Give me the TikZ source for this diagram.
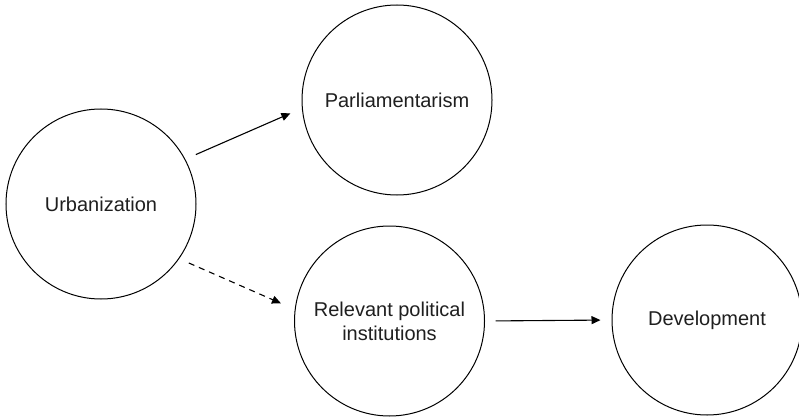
\documentclass[tikz,border=0pt]{standalone}
\usepackage{fontspec}
\setmainfont{Liberation Sans}
\usetikzlibrary{arrows.meta}
\begin{document}
\begin{tikzpicture}[x=1pt,y=-1pt,
  concept/.style={circle,draw=black,line width=1pt,minimum size=190pt,inner sep=0pt,
    align=center,text=black!88,font=\fontsize{20}{24}\selectfont},
  link/.style={line width=1.1pt,-{Triangle[length=9pt,width=8pt]}},
  dashlink/.style={link,dash pattern=on 6pt off 5pt}]
\useasboundingbox (0,0) rectangle (799,417);
\node[concept] (u) at (101,204) {Urbanization};
\node[concept] (p) at (397,100) {Parliamentarism};
\node[concept] (r) at (389.5,321) {Relevant political\\institutions};
\node[concept] (d) at (707,320) {Development};
\draw[link,shorten <=11.5pt,shorten >=12.5pt] (u.28) -- (p.185.3);
\draw[dashlink,shorten <=10.5pt,shorten >=15pt] (u.-35.3) -- (r.173.7);
\draw[link,shorten <=10.5pt,shorten >=11pt] (r.east) -- (d.west);
\end{tikzpicture}
\end{document}
